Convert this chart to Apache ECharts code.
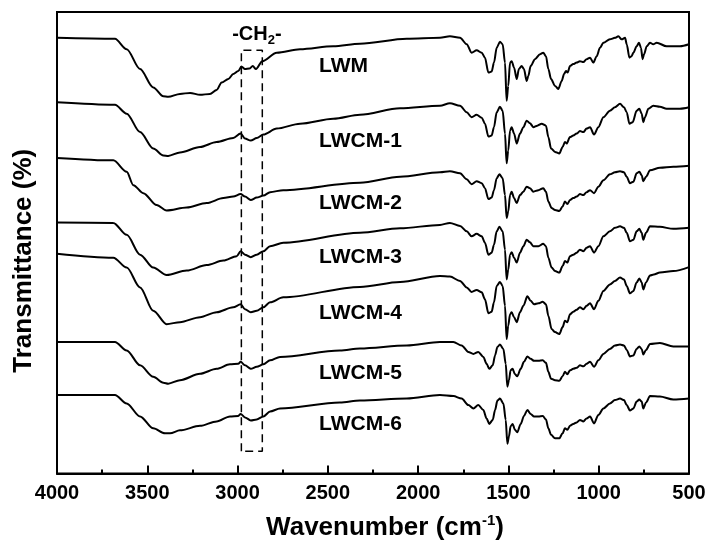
<!DOCTYPE html>
<html><head><meta charset="utf-8">
<script src="https://cdn.jsdelivr.net/npm/echarts@6/dist/echarts.min.js"></script>
<style>html,body{margin:0;padding:0;background:#fff}#c{width:709px;height:546px}</style>
</head><body><div id="c"></div>
<script>
// FTIR spectra: [wavenumber (cm-1), transmittance (arbitrary, offset)]
const LWM = [[4000,87.8],[3679,87.6],[3614,85.5],[3540,81.5],[3467,77.8],[3411,76.0],[3384,75.9],[3319,76.5],[3263,76.7],[3208,76.3],[3153,76.5],[3116,77.3],[3088,78.8],[3051,79.5],[3024,80.5],[2996,81.1],[2979,82.0],[2959,81.5],[2935,81.6],[2916,82.1],[2898,81.5],[2863,83.1],[2783,84.8],[2654,85.5],[2470,86.1],[2322,86.6],[2063,87.6],[1879,87.8],[1824,88.1],[1768,87.8],[1731,86.5],[1704,84.8],[1676,85.3],[1648,84.8],[1630,83.8],[1611,80.8],[1593,81.0],[1580,82.8],[1565,85.8],[1547,87.0],[1532,86.5],[1519,82.8],[1510,75.1],[1501,78.1],[1491,82.8],[1482,83.1],[1469,81.8],[1454,79.5],[1442,81.5],[1427,82.1],[1414,81.5],[1399,79.1],[1390,80.1],[1377,82.1],[1353,83.5],[1325,84.5],[1307,84.8],[1292,84.1],[1279,81.5],[1264,79.5],[1242,78.1],[1224,77.5],[1205,79.1],[1192,80.5],[1181,81.1],[1172,80.8],[1159,82.1],[1141,82.5],[1122,82.8],[1104,83.1],[1085,82.9],[1067,83.5],[1048,83.8],[1030,82.8],[1011,84.1],[993,85.8],[974,86.8],[938,87.5],[910,87.8],[891,88.1],[873,87.5],[854,87.8],[845,86.5],[830,83.8],[818,84.1],[808,84.8],[790,86.1],[777,86.8],[766,85.8],[757,83.5],[749,84.5],[734,86.1],[716,86.8],[698,86.5],[679,86.8],[624,86.1],[550,86.1],[500,86.5]];

const LWCM1 = [[4000,74.8],[3679,74.3],[3614,72.5],[3540,68.8],[3467,65.5],[3411,64.1],[3384,64.0],[3319,64.7],[3208,65.8],[3116,66.8],[3024,67.6],[2983,68.5],[2959,67.5],[2927,67.1],[2894,67.6],[2857,68.3],[2783,69.5],[2654,70.5],[2470,71.5],[2322,72.3],[2100,73.6],[1879,74.1],[1824,74.6],[1768,74.1],[1731,72.8],[1704,71.8],[1676,72.3],[1648,71.7],[1630,70.5],[1611,67.9],[1593,68.1],[1580,69.8],[1565,72.8],[1547,73.9],[1532,73.1],[1519,68.5],[1510,62.5],[1501,65.1],[1491,69.1],[1482,69.8],[1469,68.5],[1454,66.5],[1436,68.5],[1417,69.8],[1399,71.1],[1381,70.6],[1362,69.8],[1340,70.1],[1316,70.5],[1292,70.1],[1279,67.8],[1264,65.5],[1242,64.8],[1218,64.5],[1200,65.8],[1187,66.8],[1178,66.5],[1159,67.8],[1141,68.1],[1122,68.5],[1104,69.0],[1085,68.8],[1067,69.5],[1048,69.8],[1026,68.3],[1002,69.8],[974,71.8],[938,73.1],[910,73.8],[882,74.5],[860,73.8],[845,72.8],[830,70.5],[812,70.8],[790,73.1],[775,73.5],[762,72.5],[753,70.8],[744,71.8],[725,73.5],[698,74.1],[661,73.9],[624,73.5],[550,73.5],[500,73.8]];

const LWCM2 = [[4000,63.6],[3688,63.1],[3614,60.8],[3577,58.1],[3522,56.5],[3448,54.1],[3393,53.0],[3282,53.6],[3171,54.5],[3079,55.5],[3024,55.8],[2983,56.3],[2959,55.8],[2927,55.1],[2894,55.6],[2857,56.0],[2820,56.7],[2747,57.1],[2322,58.6],[2100,59.8],[1879,60.7],[1824,60.9],[1768,60.5],[1731,59.3],[1704,58.3],[1676,58.9],[1648,58.5],[1630,57.5],[1611,55.3],[1593,55.6],[1580,57.1],[1565,59.5],[1550,60.3],[1532,59.5],[1519,56.1],[1510,51.5],[1501,52.8],[1491,56.1],[1482,56.8],[1469,55.5],[1454,54.5],[1436,56.1],[1417,56.8],[1399,57.8],[1381,57.5],[1362,56.8],[1334,57.1],[1307,57.5],[1292,56.8],[1279,54.8],[1261,53.5],[1242,53.1],[1218,52.9],[1200,53.8],[1187,54.8],[1174,54.3],[1159,55.1],[1141,55.5],[1122,55.8],[1104,56.3],[1085,56.1],[1067,56.7],[1048,57.1],[1026,56.5],[1002,57.8],[974,59.1],[938,60.3],[910,60.7],[882,60.9],[860,60.7],[845,59.8],[827,58.5],[808,58.8],[790,60.5],[775,60.8],[762,60.1],[753,58.9],[738,59.8],[716,61.1],[661,61.6],[587,61.8],[500,62.0]];

const LWCM3 = [[4000,50.6],[3688,50.5],[3614,48.1],[3540,44.1],[3467,41.5],[3393,40.0],[3282,40.9],[3171,42.0],[3079,42.9],[3005,43.8],[2983,44.8],[2959,44.1],[2927,43.6],[2894,44.1],[2857,44.8],[2820,45.8],[2747,46.5],[2322,48.5],[2100,49.4],[1879,50.1],[1824,50.5],[1768,49.9],[1731,48.8],[1704,47.8],[1676,48.3],[1648,47.8],[1630,46.5],[1611,44.1],[1593,44.5],[1580,46.1],[1565,48.8],[1550,49.7],[1532,48.8],[1519,45.1],[1510,39.1],[1501,41.1],[1491,44.1],[1482,44.6],[1469,43.5],[1454,42.5],[1436,44.5],[1417,45.8],[1399,47.1],[1381,46.6],[1362,45.8],[1334,45.8],[1307,46.3],[1292,45.8],[1279,43.5],[1261,41.5],[1242,40.8],[1218,40.5],[1200,41.8],[1187,42.8],[1174,42.5],[1159,43.8],[1141,44.1],[1122,44.5],[1104,45.1],[1085,44.8],[1067,45.5],[1048,45.8],[1026,44.5],[1002,45.8],[974,47.8],[938,48.8],[910,49.5],[882,49.8],[860,49.5],[845,48.5],[827,46.8],[808,47.1],[790,48.8],[775,49.3],[762,48.5],[753,47.1],[738,48.5],[716,49.8],[661,49.7],[587,49.3],[500,49.5]];

const LWCM4 = [[4000,44.3],[3688,43.5],[3614,41.5],[3540,37.5],[3467,32.8],[3393,30.1],[3319,30.5],[3208,31.5],[3116,32.5],[3024,33.5],[2983,34.1],[2959,33.1],[2927,32.5],[2894,32.8],[2857,33.5],[2820,34.5],[2747,35.5],[2322,37.6],[2100,38.6],[1879,39.8],[1824,39.7],[1768,38.8],[1731,37.5],[1704,36.6],[1676,37.0],[1648,36.5],[1630,35.1],[1611,32.3],[1593,32.6],[1580,34.5],[1565,37.8],[1547,38.6],[1532,37.8],[1519,33.8],[1510,27.1],[1501,29.8],[1491,32.1],[1482,32.5],[1469,31.5],[1454,30.5],[1436,32.5],[1417,33.8],[1395,35.7],[1377,34.8],[1358,34.1],[1334,34.3],[1310,34.6],[1292,34.1],[1279,31.8],[1261,29.1],[1242,28.5],[1218,28.1],[1200,29.5],[1187,30.8],[1174,30.5],[1159,32.1],[1141,32.6],[1122,33.0],[1104,33.5],[1085,33.1],[1067,33.8],[1048,34.3],[1026,33.1],[1002,34.8],[974,36.8],[938,38.1],[910,38.8],[882,39.5],[860,39.1],[845,37.8],[827,36.3],[808,36.8],[790,38.5],[775,39.3],[762,38.5],[753,37.1],[738,38.5],[716,39.9],[695,40.1],[661,40.5],[587,40.8],[500,41.6]];

const LWCM5 = [[4000,26.5],[3679,26.5],[3614,24.8],[3540,21.8],[3467,19.5],[3411,18.3],[3384,18.1],[3319,18.8],[3208,20.1],[3116,21.1],[3042,22.0],[2996,22.1],[2983,22.5],[2959,21.8],[2927,21.1],[2894,21.5],[2857,22.0],[2820,22.8],[2765,23.5],[2433,24.8],[2322,25.2],[2063,25.8],[1879,26.5],[1805,26.5],[1759,25.8],[1722,24.5],[1694,24.1],[1667,24.5],[1639,23.5],[1621,22.1],[1606,21.1],[1587,21.8],[1574,23.8],[1561,25.5],[1547,26.0],[1528,25.1],[1515,22.1],[1506,17.5],[1497,18.8],[1488,20.8],[1477,21.1],[1464,20.0],[1451,19.6],[1432,21.1],[1414,22.5],[1395,23.6],[1377,23.1],[1358,22.7],[1334,22.7],[1310,22.8],[1292,22.3],[1279,20.5],[1264,19.1],[1242,18.8],[1218,18.7],[1200,19.6],[1187,20.5],[1174,20.0],[1159,20.8],[1141,21.1],[1122,21.3],[1104,21.8],[1085,21.6],[1067,22.1],[1048,22.5],[1026,21.5],[1002,22.8],[974,24.1],[938,25.1],[910,25.8],[882,26.0],[860,25.8],[845,24.9],[827,23.6],[808,23.8],[790,25.1],[775,25.6],[762,25.1],[753,24.0],[738,24.9],[716,26.1],[661,26.3],[587,25.6],[500,25.6]];

const LWCM6 = [[4000,15.8],[3679,15.8],[3614,14.1],[3540,11.5],[3467,9.1],[3402,8.1],[3374,8.1],[3319,8.7],[3208,9.6],[3116,10.5],[3042,11.5],[2996,11.6],[2983,12.0],[2959,11.3],[2927,10.7],[2894,10.9],[2857,11.5],[2820,12.5],[2765,13.1],[2433,14.3],[2322,14.7],[2063,15.1],[1879,15.8],[1805,15.6],[1759,15.1],[1722,13.8],[1694,13.1],[1667,13.8],[1639,12.8],[1621,11.1],[1606,10.0],[1587,10.8],[1574,12.8],[1561,14.7],[1547,15.1],[1528,14.1],[1515,10.8],[1506,6.0],[1497,7.5],[1488,9.5],[1477,10.0],[1464,8.8],[1451,8.3],[1432,10.0],[1414,11.6],[1395,12.8],[1377,12.0],[1358,11.5],[1334,11.5],[1310,11.6],[1292,10.9],[1279,9.1],[1264,7.8],[1242,7.1],[1218,7.1],[1200,8.1],[1187,9.1],[1174,8.8],[1159,9.6],[1141,10.0],[1122,10.3],[1104,10.8],[1085,10.5],[1067,11.1],[1048,11.5],[1026,10.1],[1002,11.8],[974,13.1],[938,14.1],[910,14.8],[882,15.1],[860,14.8],[845,13.8],[827,12.7],[808,13.1],[790,14.5],[775,14.9],[762,14.5],[753,13.1],[738,14.3],[716,15.6],[661,15.5],[587,14.9],[500,15.1]];

const sampleNames = ['LWM','LWCM-1','LWCM-2','LWCM-3','LWCM-4','LWCM-5','LWCM-6'];
const sampleSpectra = [LWM, LWCM1, LWCM2, LWCM3, LWCM4, LWCM5, LWCM6];
const xTicks = [4000, 3500, 3000, 2500, 2000, 1500, 1000, 500];

// annotations (data coordinates)
const labelWavenumber = 2549;
const labelLevels = [82.0, 67.0, 54.4, 43.6, 32.4, 20.3, 10.0];
const ch2Box = { left: 2979, right: 2863, bottom: 4.5, top: 85.3 };
const ch2LabelAt = [2893, 88.4];

const chart = echarts.init(document.getElementById('c'), null, { renderer: 'canvas' });
const FONT = "'Liberation Sans', Arial, sans-serif";

const series = sampleSpectra.map((d, i) => ({
  name: sampleNames[i], type: 'line', data: d, showSymbol: false, symbol: 'none',
  smooth: 0.3, smoothMonotone: 'x',
  lineStyle: { color: '#000', width: 2 }, z: 3
}));

series.push({
  type: 'line', symbol: 'none', silent: true,
  data: [[ch2Box.left, ch2Box.bottom], [ch2Box.left, ch2Box.top], [ch2Box.right, ch2Box.top], [ch2Box.right, ch2Box.bottom], [ch2Box.left, ch2Box.bottom]],
  lineStyle: { color: '#000', width: 1.5, type: [8, 5] }, z: 2
});

series.push({
  type: 'scatter', symbolSize: 0, silent: true,
  data: labelLevels.map(v => [labelWavenumber, v]),
  itemStyle: { color: '#000', opacity: 1 },
  label: {
    show: true, position: 'right', distance: 0,
    formatter: p => sampleNames[p.dataIndex],
    color: '#000', opacity: 1, fontFamily: FONT, fontWeight: 'bold', fontSize: 21
  }
});

series.push({
  type: 'scatter', symbolSize: 0, silent: true,
  data: [ch2LabelAt],
  itemStyle: { color: '#000', opacity: 1 },
  label: {
    show: true, position: 'inside',
    formatter: '-CH{sub|2}-',
    color: '#000', opacity: 1, textBorderWidth: 0, fontFamily: FONT, fontWeight: 'bold', fontSize: 20,
    rich: { sub: { fontSize: 13, fontWeight: 'bold', fontFamily: FONT, color: '#000', textBorderWidth: 0, padding: [12, 0, 0, 0] } }
  }
});

chart.setOption({
  animation: false,
  backgroundColor: '#fff',
  grid: { left: 57, right: 20, top: 12, bottom: 69, show: true, borderColor: '#000', borderWidth: 2, backgroundColor: 'transparent' },
  xAxis: {
    type: 'value', min: 500, max: 4000, interval: 500, inverse: true,
    name: 'Wavenumber (cm{sup|-1})', nameLocation: 'middle', nameGap: 40,
    nameTextStyle: {
      color: '#000', fontFamily: FONT, fontWeight: 'bold', fontSize: 26, padding: [0, 0, 0, 24],
      rich: { sup: { fontSize: 15, fontWeight: 'bold', fontFamily: FONT, color: '#000', padding: [0, 0, 14, 0] } }
    },
    axisLine: { show: true, lineStyle: { color: '#000', width: 2 } },
    axisTick: { show: true, inside: true, length: 8, lineStyle: { color: '#000', width: 2 } },
    minorTick: { show: true, splitNumber: 2, length: 4, lineStyle: { color: '#000', width: 2 } },
    axisLabel: { color: '#000', fontFamily: FONT, fontWeight: 'bold', fontSize: 20, margin: 10,
      formatter: v => xTicks.includes(v) ? String(v) : '' },
    splitLine: { show: false }
  },
  yAxis: {
    type: 'value', min: 0, max: 93,
    name: 'Transmittance (%)', nameLocation: 'middle', nameGap: 20,
    nameTextStyle: { color: '#000', fontFamily: FONT, fontWeight: 'bold', fontSize: 26, padding: [0, 36, 0, 0] },
    axisLine: { show: false }, axisTick: { show: false }, axisLabel: { show: false }, splitLine: { show: false }
  },
  series
});
</script></body></html>
